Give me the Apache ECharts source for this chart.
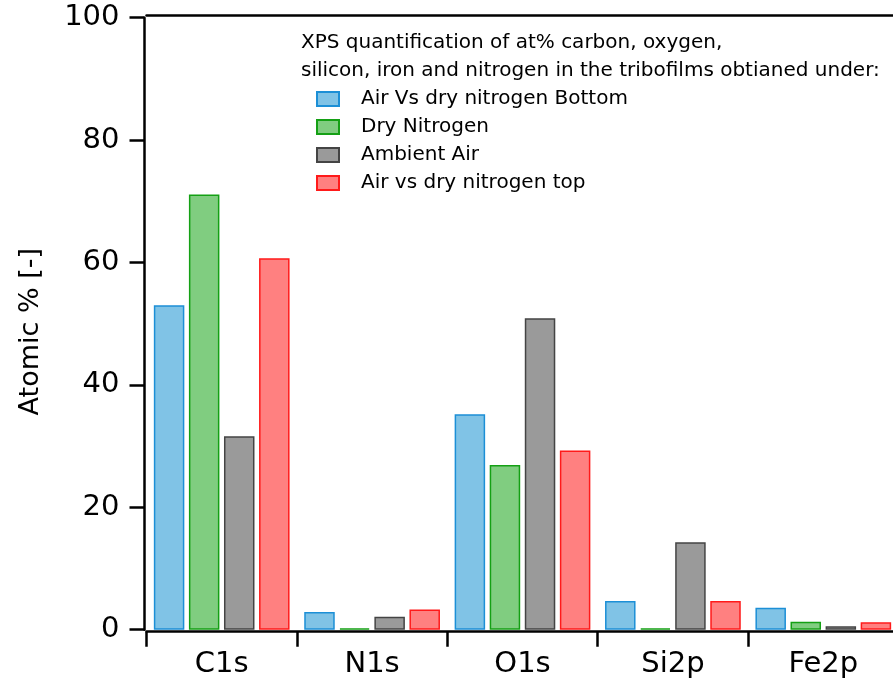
<!DOCTYPE html>
<html>
<head>
<meta charset="utf-8">
<script src="https://cdn.jsdelivr.net/npm/echarts@6/dist/echarts.min.js"></script>
<style>html,body{margin:0;padding:0;background:#fff}#chart{width:893px;height:682px}</style>
</head>
<body>
<div id="chart"></div>
<script>
const categories = ['C1s', 'N1s', 'O1s', 'Si2p', 'Fe2p'];
const seriesNames = ['Air Vs dry nitrogen Bottom', 'Dry Nitrogen', 'Ambient Air', 'Air vs dry nitrogen top'];
const airVsDryBottom = [53.0, 2.9, 35.2, 4.7, 3.6];
const dryNitrogen = [71.1, 0.2, 26.9, 0.2, 1.3];
const ambientAir = [31.6, 2.1, 50.9, 14.3, 0.55];
const airVsDryTop = [60.7, 3.3, 29.3, 4.7, 1.2];
const yTicks = [0, 20, 40, 60, 80, 100];
const titleLines = ['XPS quantification of at% carbon, oxygen,', 'silicon, iron and nitrogen in the tribofilms obtianed under:'];

const fills = ['#80c3e6', '#80cd80', '#9a9a9a', '#ff8080'];
const borders = ['#1c8fd6', '#14a014', '#444444', '#ff1a1a'];
const values = [airVsDryBottom, dryNitrogen, ambientAir, airVsDryTop];

const chart = echarts.init(document.getElementById('chart'), null, {renderer: 'canvas'});
const font = 'DejaVu Sans';
chart.setOption({
  animation: false,
  backgroundColor: '#fff',
  textStyle: {fontFamily: font},
  title: {
    text: titleLines.join('\n'),
    left: 301, top: 29, padding: 0,
    textStyle: {fontFamily: font, fontSize: 20, fontWeight: 'normal', color: '#000', lineHeight: 28}
  },
  legend: {
    orient: 'vertical', left: 316, top: 89, padding: 0,
    itemWidth: 22, itemHeight: 14, itemGap: 8,
    icon: 'rect',
    data: seriesNames,
    textStyle: {fontFamily: font, fontSize: 20, color: '#000', lineHeight: 20, padding: [0, 0, 0, 17]}
  },
  grid: {left: 146.5, top: 17.7, width: 752, height: 612, containLabel: false, outerBoundsMode: 'none'},
  xAxis: [{
    type: 'category', data: categories, position: 'bottom', offset: 2,
    axisLine: {onZero: false, lineStyle: {color: '#000', width: 2.5}},
    axisTick: {show: true, length: 15, lineStyle: {color: '#000', width: 2.5}},
    axisLabel: {fontFamily: font, fontSize: 29, color: '#000', margin: 18},
    splitLine: {show: false}
  }, {
    type: 'category', data: categories, position: 'top', offset: 2,
    axisLine: {onZero: false, lineStyle: {color: '#000', width: 2.5}},
    axisTick: {show: false}, axisLabel: {show: false}, splitLine: {show: false}
  }],
  yAxis: {
    type: 'value', min: yTicks[0], max: yTicks[yTicks.length - 1], interval: 20, offset: 2,
    name: 'Atomic % [-]', nameLocation: 'middle', nameGap: 100,
    nameTextStyle: {fontFamily: font, fontSize: 27, color: '#000', padding: [0, 0, 0, -16]},
    axisLine: {show: true, onZero: false, lineStyle: {color: '#000', width: 2.5}},
    axisTick: {show: true, length: 15, lineStyle: {color: '#000', width: 2.5}},
    axisLabel: {fontFamily: font, fontSize: 29, color: '#000', margin: 25},
    splitLine: {show: false}
  },
  series: seriesNames.map((name, i) => ({
    name: name, type: 'bar', data: values[i], barWidth: 30.5, barGap: '15%',
    itemStyle: {color: fills[i], borderColor: borders[i], borderWidth: 1.5}
  }))
});
</script>
</body>
</html>
